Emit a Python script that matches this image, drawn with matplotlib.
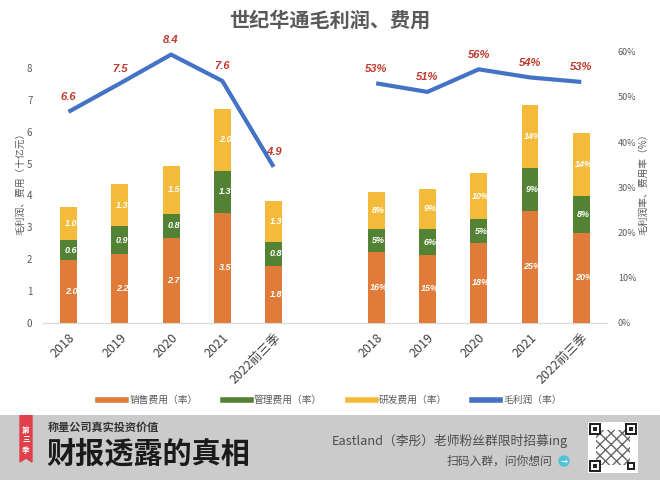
import matplotlib
matplotlib.use('Agg')
import matplotlib.pyplot as plt
import matplotlib.patches as patches
from matplotlib.lines import Line2D

plt.rcParams['font.family'] = ['Noto Sans CJK SC', 'DejaVu Sans']

categories = ['2018', '2019', '2020', '2021', '2022前三季']

# 金额（十亿元）
sales = [1.96, 2.17, 2.66, 3.46, 1.79]
admin = [0.63, 0.86, 0.77, 1.30, 0.76]
rnd = [1.04, 1.33, 1.51, 1.97, 1.27]
gross = [6.63, 7.52, 8.43, 7.60, 4.90]

# 比率（%）
sales_rate = [15.7, 15.0, 17.7, 24.8, 19.9]
admin_rate = [5.0, 5.7, 5.2, 9.4, 8.2]
rnd_rate = [8.3, 9.0, 10.2, 14.1, 14.0]
gross_rate = [53.0, 51.1, 56.1, 54.3, 53.3]

c_sales = '#E07B39'
c_admin = '#548235'
c_rnd = '#F4BB3A'
c_line = '#4472C4'
c_red = '#C0392B'
grey = '#595959'

fig = plt.figure(figsize=(6.6, 4.8), dpi=100)
fig.patch.set_facecolor('white')

ax = fig.add_axes([0.065, 0.3277, 0.8545, 0.5646])
ax2 = ax.twinx()

x_left = [0, 1, 2, 3, 4]
x_right = [6, 7, 8, 9, 10]
w = 0.33


def stack(a, xs, parts, fmt):
    bottom = [0] * len(xs)
    for vals, col in parts:
        a.bar(xs, vals, w, bottom=bottom, color=col, zorder=2)
        for xi, b, v in zip(xs, bottom, vals):
            a.text(xi + 0.05, b + v / 2, fmt(v), color='white', fontsize=6.5,
                   style='italic', weight='bold', family='Liberation Sans',
                   ha='center', va='center', zorder=3)
        bottom = [b + v for b, v in zip(bottom, vals)]


stack(ax, x_left, [(sales, c_sales), (admin, c_admin), (rnd, c_rnd)],
      lambda v: f'{v:.1f}')
stack(ax2, x_right, [(sales_rate, c_sales), (admin_rate, c_admin), (rnd_rate, c_rnd)],
      lambda v: f'{v:.0f}%')

ax.plot(x_left, gross, color=c_line, lw=3, zorder=4, solid_capstyle='butt')
ax2.plot(x_right, gross_rate, color=c_line, lw=3, zorder=4, solid_capstyle='butt')
for xi, v in zip(x_left, gross):
    ax.annotate(f'{v:.1f}', (xi, v), xytext=(0, 7), textcoords='offset points',
                ha='center', va='bottom', color=c_red, fontsize=8, style='italic',
                weight='bold', family='Liberation Sans', annotation_clip=False)
for xi, v in zip(x_right, gross_rate):
    ax2.annotate(f'{v:.0f}%', (xi, v), xytext=(0, 7), textcoords='offset points',
                 ha='center', va='bottom', color=c_red, fontsize=8, style='italic',
                 weight='bold', family='Liberation Sans', annotation_clip=False)

ax.set_xlim(-0.5, 10.5)
ax.set_ylim(0, 8.52)
ax.set_yticks(range(0, 9))
ax2.set_ylim(0, 60)
ax2.set_yticks(range(0, 61, 10))
ax2.set_yticklabels([f'{t}%' for t in range(0, 61, 10)])

ax.set_xticks(x_left + x_right)
ax.set_xticklabels(categories * 2, rotation=45, ha='right', rotation_mode='anchor',
                   fontsize=9, color='#404040')
ax.tick_params(axis='x', length=0, pad=6)
ax.tick_params(axis='y', length=0, labelsize=7, labelcolor=grey, pad=7.5)
ax2.tick_params(axis='y', length=0, labelsize=6.5, labelcolor=grey, pad=8)

for s in ['top', 'left', 'right']:
    ax.spines[s].set_visible(False)
    ax2.spines[s].set_visible(False)
ax.spines['bottom'].set_color('#d9d9d9')
ax2.spines['bottom'].set_visible(False)

ax.set_ylabel('毛利润、费用（十亿元）', fontsize=7, color=grey)
ax2.set_ylabel('毛利润率、费用率（%）', fontsize=7, color=grey)
ax.yaxis.set_label_coords(-0.031, 0.52)
ax2.yaxis.set_label_coords(1.055, 0.52)

fig.text(0.5, 1 - 20 / 480, '世纪华通毛利润、费用', ha='center', va='center',
         fontsize=14.5, weight='bold', color=grey)

handles = [Line2D([], [], color=c, lw=4) for c in [c_sales, c_admin, c_rnd, c_line]]
fig.legend(handles, ['销售费用（率）', '管理费用（率）', '研发费用（率）', '毛利润（率）'],
           loc='center', bbox_to_anchor=(0.5, 1 - 400 / 480), ncol=4, frameon=False,
           fontsize=7, handlelength=2.9, handletextpad=0.3, columnspacing=2.6,
           labelcolor=grey)

# 底部横幅
bn = fig.add_axes([0, 0, 1, 65 / 480])
bn.set_xlim(0, 660)
bn.set_ylim(65, 0)
bn.axis('off')
bn.add_patch(patches.Rectangle((0, 0), 660, 65, color='#cbcbcb'))
bn.add_patch(patches.Polygon([(20, 0), (32, 0), (32, 47), (26, 43), (20, 47)],
                             color='#e0404a'))
for i, ch in enumerate('第三季'):
    bn.text(26, 15 + i * 10, ch, color='white', fontsize=5.5, weight='bold',
            ha='center', va='center')
bn.text(48, 12, '称量公司真实投资价值', fontsize=8, weight='bold', color='#333333',
        ha='left', va='center')
bn.text(46, 38, '财报透露的真相', fontsize=21, weight='heavy', color='#1a1a1a',
        ha='left', va='center')
bn.text(568, 26, 'Eastland（李彤）老师粉丝群限时招募ing', fontsize=9.2, color='#4d4d4d',
        ha='right', va='center')
bn.text(552, 46, '扫码入群，问你想问', fontsize=8.5, color='#4d4d4d',
        ha='right', va='center')
bn.add_patch(patches.Circle((564, 46), 5, color='#4fc3d9'))
bn.text(564, 46, '→', fontsize=6, color='white', weight='bold', family='DejaVu Sans',
        ha='center', va='center')

# 二维码（示意）
bn.add_patch(patches.Rectangle((588, 7), 50, 51, facecolor='white', edgecolor='none'))
bn.add_patch(patches.Rectangle((596, 15), 34, 35, facecolor='none', edgecolor='#666666',
                               hatch='xxx', lw=0))
for qx, qy, s in [(589, 8, 12), (625, 8, 12), (589, 45, 12), (627, 47, 8)]:
    bn.add_patch(patches.Rectangle((qx, qy), s, s, facecolor='#222222'))
    bn.add_patch(patches.Rectangle((qx + 2, qy + 2), s - 4, s - 4, facecolor='white'))
    bn.add_patch(patches.Rectangle((qx + 4, qy + 4), s - 8, s - 8, facecolor='#222222'))

fig.savefig('out.png', dpi=100)
